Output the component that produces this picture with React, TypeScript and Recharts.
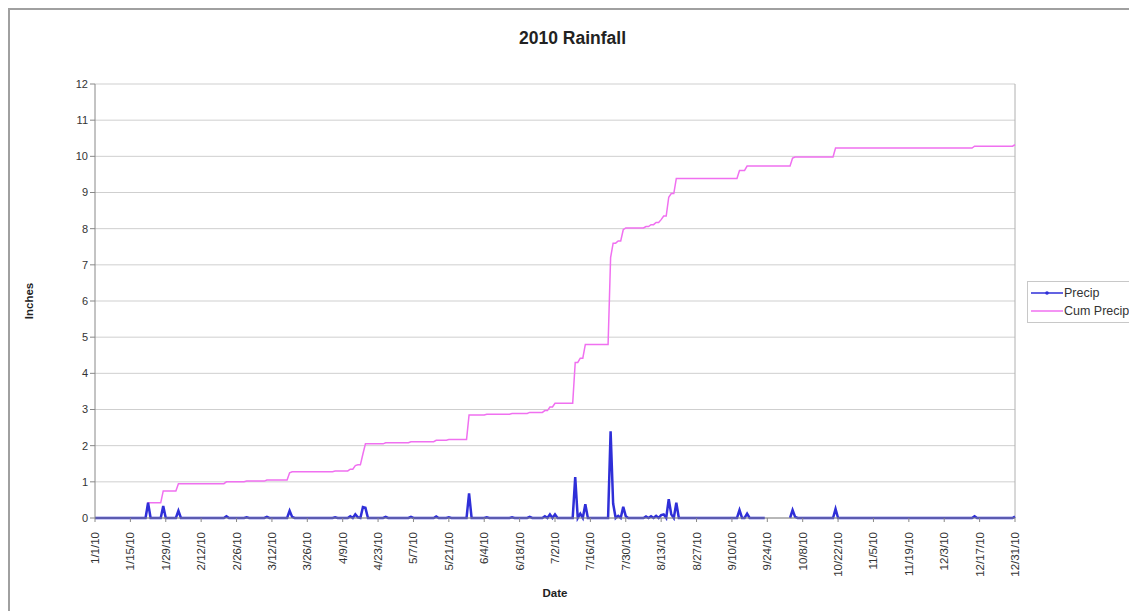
import React from "react";
import { LineChart, Line, XAxis, YAxis, CartesianGrid, ReferenceLine, Label } from "recharts";

// Tick labels (every 14 days starting 1/1/10)
const tickLabels = [
  "1/1/10", "1/15/10", "1/29/10", "2/12/10", "2/26/10", "3/12/10", "3/26/10", "4/9/10",
  "4/23/10", "5/7/10", "5/21/10", "6/4/10", "6/18/10", "7/2/10", "7/16/10", "7/30/10",
  "8/13/10", "8/27/10", "9/10/10", "9/24/10", "10/8/10", "10/22/10", "11/5/10", "11/19/10",
  "12/3/10", "12/17/10", "12/31/10",
];
const yTicks = [0, 1, 2, 3, 4, 5, 6, 7, 8, 9, 10, 11, 12];

// Rain events: day of year (0 = 1/1/10) and daily precipitation in inches
const rainDays = [
  21, 27, 33, 52, 60, 68, 77, 78, 95,
  101, 103, 104, 106, 107, 115, 125, 135, 140,
  148, 155, 165, 172, 178, 180, 182,
  190, 192, 194, 204, 205, 207, 209, 210,
  218, 220, 222, 224, 225, 227, 228, 230,
  255, 258, 276, 277, 293, 348, 364,
];
const rainAmounts = [
  0.42, 0.33, 0.2, 0.05, 0.02, 0.03, 0.2, 0.03, 0.02,
  0.05, 0.1, 0.02, 0.3, 0.28, 0.03, 0.03, 0.04, 0.02,
  0.68, 0.02, 0.02, 0.03, 0.05, 0.1, 0.1,
  1.13, 0.12, 0.38, 2.4, 0.4, 0.06, 0.31, 0.05,
  0.04, 0.05, 0.06, 0.08, 0.1, 0.52, 0.1, 0.42,
  0.22, 0.12, 0.22, 0.03, 0.25, 0.05, 0.04,
];
// Days with no precipitation reading
const missingDays = [266, 267, 268, 269, 270, 271, 272, 273, 274];
const dayCount = 365;

const data: { day: number; precip: number | null; cum: number }[] = [];
{
  let running = 0;
  for (let d = 0; d < dayCount; d++) {
    const idx = rainDays.indexOf(d);
    const p = idx >= 0 ? rainAmounts[idx] : 0;
    running += p;
    data.push({
      day: d,
      precip: missingDays.includes(d) ? null : p,
      cum: Math.round(running * 100) / 100,
    });
  }
}
const xTicks = tickLabels.map((_, i) => i * 14);

const FONT = "'Liberation Sans', Arial, sans-serif";
const PRECIP_COLOR = "#2f2fd8";
const CUM_COLOR = "#f070f0";

const RotTick = (props: any) => {
  const { x, y, payload } = props;
  const label = tickLabels[Math.round(payload.value / 14)];
  const ax = x + 4;
  const ay = y + 8;
  return (
    <text
      x={ax}
      y={ay}
      transform={`rotate(-90 ${ax} ${ay})`}
      textAnchor="end"
      fontSize={11.5}
      fontFamily={FONT}
      fill="#333"
    >
      {label}
    </text>
  );
};

const LegendBox = () => (
  <div
    style={{
      position: "absolute",
      left: 1019,
      top: 273,
      border: "1px solid #c8c8c8",
      background: "#fff",
      padding: "2px 3px",
      fontFamily: FONT,
      fontSize: 12.5,
      color: "#333",
      width: 130,
      boxSizing: "border-box",
    }}
  >
    <div style={{ display: "flex", alignItems: "center", height: 18 }}>
      <svg width={32} height={8} style={{ marginRight: 1 }}>
        <line x1={0} y1={4} x2={32} y2={4} stroke={PRECIP_COLOR} strokeWidth={1.5} />
        <circle cx={16} cy={4} r={1.8} fill={PRECIP_COLOR} />
      </svg>
      <span>Precip</span>
    </div>
    <div style={{ display: "flex", alignItems: "center", height: 18 }}>
      <svg width={32} height={8} style={{ marginRight: 1 }}>
        <line x1={0} y1={4} x2={32} y2={4} stroke={CUM_COLOR} strokeWidth={1.5} />
      </svg>
      <span>Cum Precip</span>
    </div>
  </div>
);

export default function App() {
  return (
    <div style={{ position: "relative", width: 1140, height: 620 }}>
      <div
        style={{
          position: "absolute",
          left: 0,
          top: 0,
          width: 1140,
          height: 620,
          borderLeft: "2px solid #a0a0a0",
          borderTop: "2px solid #a0a0a0",
          boxSizing: "border-box",
        }}
      />
      <div
        style={{
          position: "absolute",
          left: 0,
          width: 1129,
          top: 20,
          textAlign: "center",
          fontFamily: FONT,
          fontWeight: "bold",
          fontSize: 17.5,
          color: "#222",
        }}
      >
        2010 Rainfall
      </div>
      <div style={{ position: "absolute", left: 0, top: 0 }}>
        <LineChart
          width={1129}
          height={598}
          data={data}
          margin={{ top: 76, right: 122, bottom: 9, left: 47 }}
        >
          <CartesianGrid vertical={false} stroke="#cfcfcf" strokeWidth={1} />
          <XAxis
            dataKey="day"
            type="number"
            domain={[0, 364]}
            ticks={xTicks}
            interval={0}
            tick={<RotTick />}
            tickLine={{ stroke: "#888" }}
            tickSize={4}
            axisLine={{ stroke: "#888" }}
            height={79}
          >
            <Label
              value="Date"
              position="insideBottom"
              offset={0}
              style={{ fontFamily: FONT, fontWeight: "bold", fontSize: 11.5, fill: "#222" }}
            />
          </XAxis>
          <YAxis
            domain={[0, 12]}
            ticks={yTicks}
            interval={0}
            tick={{ fontSize: 11, fontFamily: FONT, fill: "#333" }}
            tickLine={{ stroke: "#888" }}
            tickSize={5}
            axisLine={{ stroke: "#888" }}
            width={40}
          >
            <Label
              value="Inches"
              angle={-90}
              position="insideLeft"
              offset={-26}
              style={{ fontFamily: FONT, fontWeight: "bold", fontSize: 11.5, fill: "#222", textAnchor: "middle" }}
            />
          </YAxis>
          <ReferenceLine x={364} stroke="#b0b0b0" />
          <Line
            type="linear"
            dataKey="cum"
            name="Cum Precip"
            stroke={CUM_COLOR}
            strokeWidth={1.5}
            dot={false}
            isAnimationActive={false}
          />
          <Line
            type="linear"
            dataKey="precip"
            name="Precip"
            stroke={PRECIP_COLOR}
            strokeWidth={2.5}
            dot={false}
            connectNulls={false}
            isAnimationActive={false}
          />
        </LineChart>
      </div>
      <LegendBox />
    </div>
  );
}
